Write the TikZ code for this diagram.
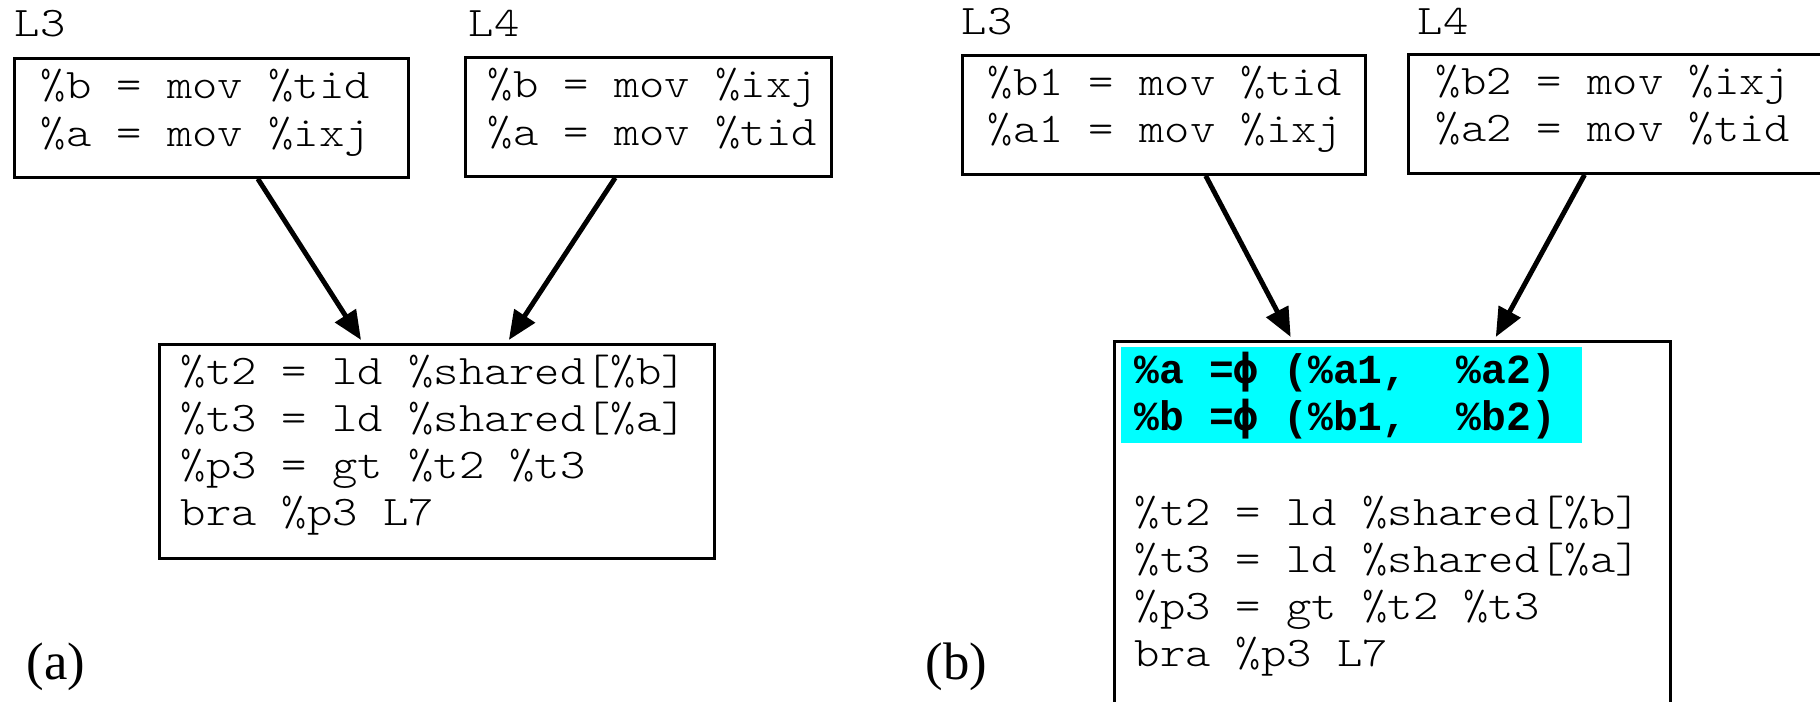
\documentclass[tikz,border=0pt]{standalone}
\usepackage{fontspec}
\setmainfont{Liberation Serif}
\newfontfamily\code{Latin Modern Mono Light}[FakeStretch=1.143, WordSpace={1,0,0}]
\newfontfamily\boldcode{Liberation Mono}[WordSpace={1,0,0}]
\newfontfamily\phifont{DejaVu Sans Mono}
\usetikzlibrary{arrows.meta,calc}
\definecolor{hlcyan}{RGB}{0,255,255}
\begin{document}
\frenchspacing
\begin{tikzpicture}[x=0.1mm,y=-0.1mm,
  box/.style={draw, line width=0.8pt, inner sep=0pt, anchor=north west},
  codeline/.style={font=\code\fontsize{12}{13.5}\selectfont, inner sep=0pt, anchor=base west},
  boldline/.style={font=\boldcode\bfseries\fontsize{11.75}{13.5}\selectfont, inner sep=0pt, anchor=base west},
  arr/.style={line width=1.4pt, -{Triangle[length=2.9mm,width=2.4mm]}},
  sublabel/.style={font=\fontsize{15}{18}\selectfont, inner sep=0pt, anchor=base west}]
\useasboundingbox (0,0) rectangle (1820,702);
\clip (0,0) rectangle (1820,702);
% ---------------- (a) ----------------
\node[codeline] (la3) at (14,37) {L3};
\node[codeline] (la4) at (468,37) {L4};
\node[box, minimum width=39.4mm, minimum height=11.9mm] (a3) at (13,57) {};
\node[codeline] (a3l1) at (40,99) {\%b = mov \%tid};
\node[codeline] (a3l2) at (40,147) {\%a = mov \%ixj};
\node[box, minimum width=36.6mm, minimum height=11.9mm] (a4) at (464,56) {};
\node[codeline] (a4l1) at (487,98) {\%b = mov \%ixj};
\node[codeline] (a4l2) at (487,146) {\%a = mov \%tid};
\node[box, minimum width=55.5mm, minimum height=21.4mm] (ab) at (158,343) {};
\node[codeline] (abl1) at (180,385) {\%t2 = ld \%shared[\%b]};
\node[codeline] (abl2) at (180,432) {\%t3 = ld \%shared[\%a]};
\node[codeline] (abl3) at (180,479) {\%p3 = gt \%t2 \%t3};
\node[codeline] (abl4) at (180,526) {bra \%p3 L7};
\draw[arr] ($(a3.south west)!0.617!(a3.south east)$) -- ($(ab.north west)!0.364!(ab.north east)+(0,-3)$);
\draw[arr] ($(a4.south west)!0.41!(a4.south east)$) -- ($(ab.north west)!0.629!(ab.north east)+(0,-3)$);
\node[sublabel] (suba) at (26,680) {(a)};
% ---------------- (b) ----------------
\node[codeline] (lb3) at (961,35) {L3};
\node[codeline] (lb4) at (1417,35) {L4};
\node[box, minimum width=40.3mm, minimum height=11.9mm] (b3) at (961,54) {};
\node[codeline] (b3l1) at (987,96) {\%b1 = mov \%tid};
\node[codeline] (b3l2) at (987,143) {\%a1 = mov \%ixj};
\node[box, minimum width=42.3mm, minimum height=11.9mm] (b4) at (1407,53) {};
\node[codeline] (b4l1) at (1435,95) {\%b2 = mov \%ixj};
\node[codeline] (b4l2) at (1435,142) {\%a2 = mov \%tid};
\node[box, minimum width=55.6mm, minimum height=40mm] (bb) at (1113,340) {};
\fill[hlcyan] (1121,347) rectangle (1582,443);
\node[boldline] (bbp1) at (1134,384) {\%a ={\phifont\bfseries ϕ} (\%a1,~~\%a2)};
\node[boldline] (bbp2) at (1134,431) {\%b ={\phifont\bfseries ϕ} (\%b1,~~\%b2)};
\node[codeline] (bbl1) at (1134,526) {\%t2 = ld \%shared[\%b]};
\node[codeline] (bbl2) at (1134,573) {\%t3 = ld \%shared[\%a]};
\node[codeline] (bbl3) at (1134,620) {\%p3 = gt \%t2 \%t3};
\node[codeline] (bbl4) at (1134,667) {bra \%p3 L7};
\draw[arr] ($(b3.south west)!0.603!(b3.south east)$) -- ($(bb.north west)!0.318!(bb.north east)+(0,-3)$);
\draw[arr] ($(b4.south west)!0.417!(b4.south east)$) -- ($(bb.north west)!0.685!(bb.north east)+(0,-3)$);
\node[sublabel] (subb) at (925,680) {(b)};
\end{tikzpicture}
\end{document}
